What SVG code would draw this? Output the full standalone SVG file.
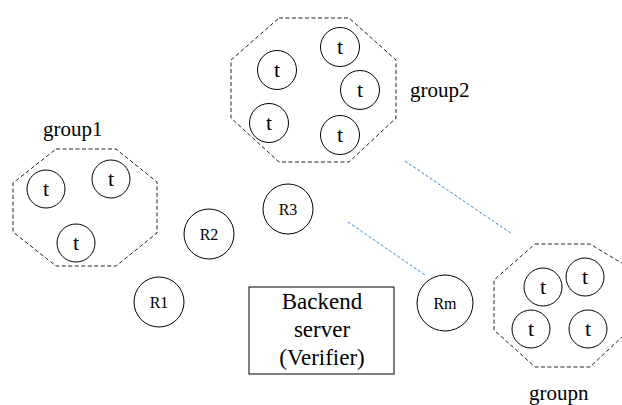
<svg xmlns="http://www.w3.org/2000/svg" width="622" height="405" viewBox="0 0 622 405">
<style>
.oct{fill:none;stroke:#222;stroke-width:1;stroke-dasharray:4 2.5}
.c{fill:#fff;stroke:#000;stroke-width:1}
text{font-family:'Liberation Serif','Times New Roman',Times,'DejaVu Serif',serif;fill:#000}
.t{font-size:22px;text-anchor:middle}
.r{font-size:16px;text-anchor:middle}
.lbl{font-size:21px}
.bk{font-size:23px;text-anchor:middle}
.link{stroke:#3a8ad6;stroke-width:1;stroke-dasharray:3 2;fill:none}
</style>
<rect width="622" height="405" fill="#fff"/>
<g id="connectors">
<line class="link" x1="348" y1="222" x2="425" y2="275"/>
<line class="link" x1="405" y1="161" x2="512" y2="234"/>
</g>
<g id="group1">
<polygon class="oct" points="56,149 116,149 157,182 157,233 116,266 56,266 13,232 13,183"/>
<text class="lbl" x="43" y="136">group1</text>
<circle class="c" cx="46" cy="189" r="19"/><text class="t" x="46" y="196">t</text>
<circle class="c" cx="111" cy="179" r="19"/><text class="t" x="111" y="186">t</text>
<circle class="c" cx="76" cy="243" r="19"/><text class="t" x="76" y="250">t</text>
</g>
<g id="group2">
<polygon class="oct" points="279,18 349,18 396,60 396,118 349,162 279,162 231,118 231,60"/>
<text class="lbl" x="410" y="97">group2</text>
<circle class="c" cx="277" cy="70" r="19.5"/><text class="t" x="277" y="77">t</text>
<circle class="c" cx="340" cy="47" r="19.5"/><text class="t" x="340" y="54">t</text>
<circle class="c" cx="360" cy="90" r="19.5"/><text class="t" x="360" y="97">t</text>
<circle class="c" cx="269" cy="123" r="19.5"/><text class="t" x="269" y="130">t</text>
<circle class="c" cx="340" cy="135" r="19.5"/><text class="t" x="340" y="142">t</text>
</g>
<g id="groupn">
<polygon class="oct" points="535,244 590,244 640,274 640,320 590,367 535,367 494,330 494,280"/>
<text class="lbl" x="529" y="400">groupn</text>
<circle class="c" cx="543" cy="287" r="19"/><text class="t" x="543" y="294">t</text>
<circle class="c" cx="585" cy="277" r="19"/><text class="t" x="585" y="284">t</text>
<circle class="c" cx="531" cy="329" r="19"/><text class="t" x="531" y="336">t</text>
<circle class="c" cx="588" cy="329" r="19"/><text class="t" x="588" y="336">t</text>
</g>
<g id="R1"><circle class="c" cx="159" cy="302" r="25"/><text class="r" x="159" y="308">R1</text></g>
<g id="R2"><circle class="c" cx="209" cy="234" r="25"/><text class="r" x="209" y="240">R2</text></g>
<g id="R3"><circle class="c" cx="288" cy="209" r="25"/><text class="r" x="288" y="215">R3</text></g>
<g id="Rm"><circle class="c" cx="445" cy="303" r="28"/><text class="r" x="445" y="309">Rm</text></g>
<g id="backend">
<rect x="249" y="287" width="145" height="87" fill="#fff" stroke="#000" stroke-width="1"/>
<text class="bk" x="322" y="309">Backend</text>
<text class="bk" x="322" y="337">server</text>
<text class="bk" x="322" y="365">(Verifier)</text>
</g>
</svg>
